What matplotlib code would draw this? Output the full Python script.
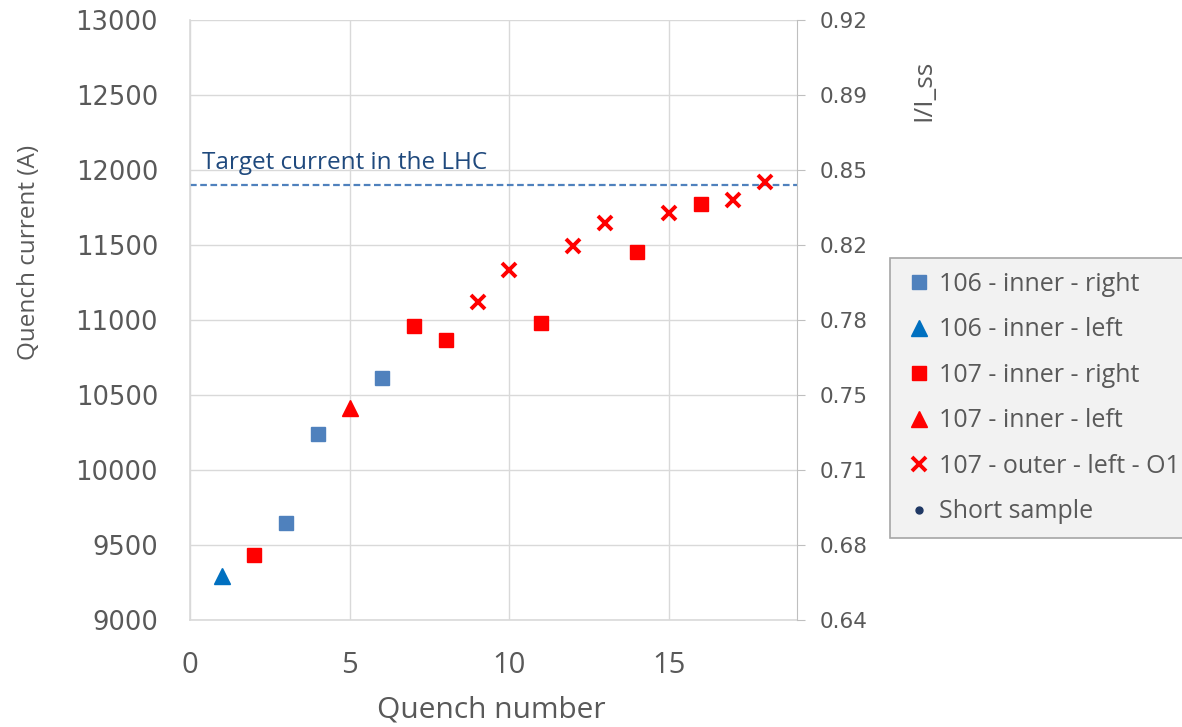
import numpy as np
import matplotlib.pyplot as plt

# Данные: номер квенча и ток квенча (A)
q106_inner_right_x = [3, 4, 6]
q106_inner_right_y = [9645, 10240, 10615]
q106_inner_left_x = [1]
q106_inner_left_y = [9295]
q107_inner_right_x = [2, 7, 8, 11, 14, 16]
q107_inner_right_y = [9430, 10962, 10867, 10982, 11450, 11770]
q107_inner_left_x = [5]
q107_inner_left_y = [10415]
q107_outer_left_x = [9, 10, 12, 13, 15, 17, 18]
q107_outer_left_y = [11118, 11333, 11493, 11644, 11716, 11800, 11922]
short_sample_x = []
short_sample_y = []

target_current = 11900
i_ss = 14074  # ток короткого образца (A) для правой оси
left_ticks = [9000, 9500, 10000, 10500, 11000, 11500, 12000, 12500, 13000]

txt = '#595959'
grid = '#d9d9d9'

fig = plt.figure(figsize=(11.82, 7.27), dpi=100)
ax = fig.add_axes([0.1607, 0.1472, 0.5136, 0.8253])

ax.plot(q106_inner_right_x, q106_inner_right_y, 's', color='#4f81bd', ms=10, ls='none',
        label='106 - inner - right')
ax.plot(q106_inner_left_x, q106_inner_left_y, '^', color='#0070c0', ms=12, ls='none',
        label='106 - inner - left')
ax.plot(q107_inner_right_x, q107_inner_right_y, 's', color='#ff0000', ms=10, ls='none',
        label='107 - inner - right')
ax.plot(q107_inner_left_x, q107_inner_left_y, '^', color='#ff0000', ms=12, ls='none',
        label='107 - inner - left')
ax.plot(q107_outer_left_x, q107_outer_left_y, 'x', color='#ff0000', ms=10, mew=2.8, ls='none',
        label='107 - outer - left - O1')
ax.plot(short_sample_x, short_sample_y, 'o', color='#1f3864', ms=5, ls='none',
        label='Short sample')

# Целевой ток в LHC
ax.axhline(target_current, color='#4f81bd', ls=(0, (3, 1.6)), lw=1.6, zorder=1)
ax.text(0.38, target_current + 65, 'Target current in the LHC', color='#1f497d',
        fontsize=17.5, family='Open Sans', va='bottom')

ax.set_xlim(0, 19)
ax.set_ylim(9000, 13000)
ax.set_xticks([0, 5, 10, 15])
ax.set_yticks(left_ticks)
ax.grid(True, color=grid, lw=1)
ax.set_axisbelow(True)
for s in ['top', 'right']:
    ax.spines[s].set_visible(False)
for s in ['left', 'bottom']:
    ax.spines[s].set_color(grid)
    ax.spines[s].set_linewidth(1.2)
ax.tick_params(axis='both', length=0, labelcolor=txt)
ax.tick_params(axis='y', labelsize=18.5, pad=23)
ax.tick_params(axis='x', labelsize=21, pad=22)
for lab in ax.get_xticklabels():
    lab.set_family('Open Sans')
ax.set_xlabel('Quench number', fontsize=21.5, color=txt, family='Open Sans')
ax.xaxis.set_label_coords(0.496, -0.15)
ax.xaxis.label.set_va('center')
ax.set_ylabel('Quench current (A)', fontsize=17.5, color=txt, family='Open Sans')
ax.yaxis.set_label_coords(-0.265, 0.612)
ax.yaxis.label.set_va('center')

# Правая ось I/I_ss
ax2 = ax.twinx()
ax2.set_ylim(9000 / i_ss, 13000 / i_ss)
ax2.set_yticks([t / i_ss for t in left_ticks])
ax2.set_yticklabels([f'{t / i_ss:.2f}' for t in left_ticks])
for s in ['top', 'left', 'bottom']:
    ax2.spines[s].set_visible(False)
ax2.spines['right'].set_color('#bfbfbf')
ax2.tick_params(axis='y', length=6, color='#bfbfbf', labelsize=15.5, labelcolor=txt, pad=10)
ax2.set_ylabel('I/I_ss', fontsize=19, color=txt, family='Open Sans')
ax2.yaxis.set_label_coords(1.209, 0.882)
ax2.yaxis.label.set_va('center')

leg = ax.legend(loc='upper left', bbox_to_anchor=(1.153, 0.603), borderaxespad=0,
                frameon=True, fancybox=False, edgecolor='#a6a6a6', facecolor='#f2f2f2',
                framealpha=1, prop={'family': 'Open Sans', 'size': 18}, labelcolor=txt,
                handlelength=1.2, handletextpad=0.2, labelspacing=0.82, borderpad=0.55)
leg.get_frame().set_linewidth(1.2)

plt.savefig('out.png', dpi=100)
